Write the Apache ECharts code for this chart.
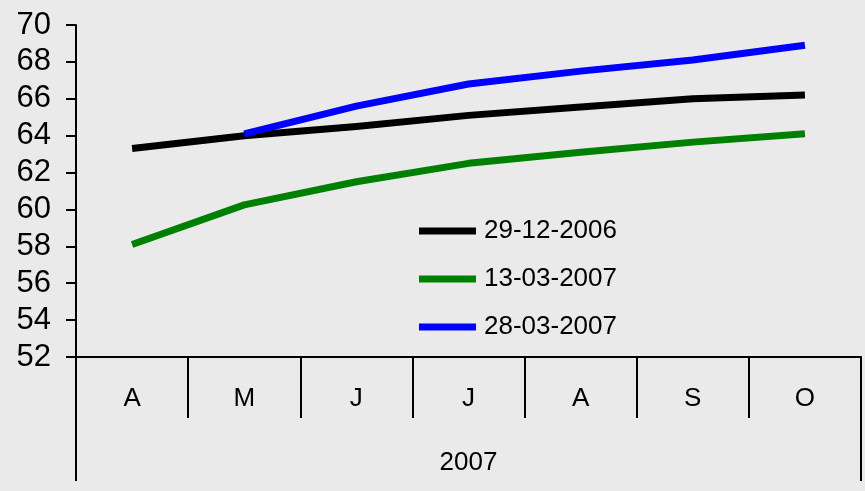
<!DOCTYPE html>
<html>
<head>
<meta charset="utf-8">
<script src="https://cdn.jsdelivr.net/npm/echarts@6/dist/echarts.min.js"></script>
<style>html,body{margin:0;padding:0;background:#eaeaea;}#c{width:865px;height:491px;}</style>
</head>
<body>
<div id="c"></div>
<script>
const months = ['A', 'M', 'J', 'J', 'A', 'S', 'O'];
const yearGroup = ['2007'];
const seriesNames = ['29-12-2006', '13-03-2007', '28-03-2007'];
const s2006_12_29 = [63.3, 64.0, 64.5, 65.1, 65.55, 66.0, 66.2];
const s2007_03_13 = [58.1, 60.25, 61.5, 62.5, 63.1, 63.65, 64.1];
const s2007_03_28 = [null, 64.1, 65.6, 66.8, 67.5, 68.1, 68.9];
const yTicks = {min: 52, max: 70, interval: 2};

const FONT = '"Liberation Sans", Arial, sans-serif';
const chart = echarts.init(document.getElementById('c'));
const colors = ['#000000', '#008000', '#0000ff'];
const data = [s2006_12_29, s2007_03_13, s2007_03_28];
chart.setOption({
  backgroundColor: '#eaeaea',
  animation: false,
  grid: {left: 76, right: 4, top: 25, bottom: 134},
  legend: {
    orient: 'vertical', left: 414, top: 213,
    icon: 'rect', itemWidth: 57, itemHeight: 7, itemGap: 22, itemStyle: {borderWidth: 0},
    textStyle: {fontFamily: FONT, fontSize: 26, color: '#000', padding: [0, 0, 0, 3]},
    data: seriesNames
  },
  xAxis: [{
    type: 'category', data: months, boundaryGap: true, position: 'bottom',
    axisLine: {lineStyle: {color: '#000', width: 2}},
    axisTick: {show: true, length: 61, lineStyle: {color: '#000', width: 2}},
    axisLabel: {fontFamily: FONT, fontSize: 26, color: '#000', margin: 29}
  }, {
    type: 'category', data: yearGroup, boundaryGap: true, position: 'bottom',
    axisLine: {show: false},
    axisTick: {show: true, length: 124, lineStyle: {color: '#000', width: 2}},
    axisLabel: {fontFamily: FONT, fontSize: 26, color: '#000', margin: 93}
  }],
  yAxis: {
    type: 'value', min: yTicks.min, max: yTicks.max, interval: yTicks.interval,
    splitLine: {show: false},
    axisLine: {show: true, lineStyle: {color: '#000', width: 2}},
    axisTick: {show: true, length: 10, lineStyle: {color: '#000', width: 2}},
    axisLabel: {fontFamily: FONT, fontSize: 31, color: '#000', margin: 25}
  },
  series: seriesNames.map((n, i) => ({
    name: n, type: 'line', data: data[i], xAxisIndex: 0,
    symbol: 'none', smooth: false, connectNulls: false,
    lineStyle: {color: colors[i], width: 7, cap: 'butt', join: 'round'},
    itemStyle: {color: colors[i]}
  }))
});
</script>
</body>
</html>
